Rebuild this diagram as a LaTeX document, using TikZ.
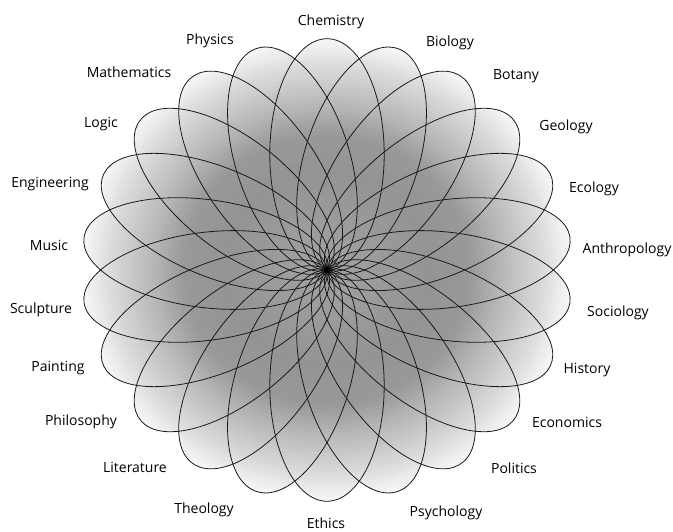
\documentclass[tikz,border=0pt]{standalone}
\usepackage{fontspec}
\setmainfont{Open Sans}
\usepackage{tikz}
\usepackage{xcolor}
\definecolor{petalline}{HTML}{1A1A1A}
\tikzset{
  petal/.style={
    draw=petalline,
    line width=0.8pt
  },
  subject/.style={
    anchor=base,
    inner sep=0pt,
    font=\fontsize{14}{16}\selectfont
  }
}

\begin{document}
\begin{tikzpicture}[x=1pt,y=1pt]
\useasboundingbox (0,0) rectangle (673,531);
\coordinate (ctr) at (327,261);
\begin{scope}[shift={(ctr)}, xscale=1.04, yscale=0.98]
  \begin{scope}
    \clip \foreach \k in {0,...,21}{
      ({90+\k*360/22}:118) ellipse [x radius=118, y radius=55, rotate={90+\k*360/22}]
    };
    \foreach \r in {250,246,...,2}{
      \pgfmathsetmacro\g{\r<100 ? 36+\r*0.06 : (\r<140 ? 42-(\r-100)*0.05 : (\r<165 ? 40-(\r-140)*0.4 : (\r<205 ? 30-(\r-165)*0.35 : max(1,16-(\r-205)*0.4))))}
      \fill[black!\g] (0,0) circle (\r);
    }
  \end{scope}
  \foreach \k in {0,...,21}
    \draw[petal] ({90+\k*360/22}:118) ellipse [x radius=118, y radius=55, rotate={90+\k*360/22}];
\end{scope}
\fill (ctr) circle (3.5);
\node[subject] (chem) at (331,505) {Chemistry};
\node[subject] (bio) at (450,484) {Biology};
\node[subject] (bot) at (516,451) {Botany};
\node[subject] (geo) at (566,400) {Geology};
\node[subject] (eco) at (594,338) {Ecology};
\node[subject] (anth) at (627,277) {Anthropology};
\node[subject] (soc) at (618,214) {Sociology};
\node[subject] (hist) at (587,157) {History};
\node[subject] (econ) at (567,103) {Economics};
\node[subject] (pol) at (514,57) {Politics};
\node[subject] (psy) at (446,15) {Psychology};
\node[subject] (eth) at (326,2) {Ethics};
\node[subject] (theo) at (204,17) {Theology};
\node[subject] (lit) at (135,59) {Literature};
\node[subject] (phil) at (81,106) {Philosophy};
\node[subject] (paint) at (58,159) {Painting};
\node[subject] (sculp) at (41,217) {Sculpture};
\node[subject] (mus) at (49,280) {Music};
\node[subject] (eng) at (50,343) {Engineering};
\node[subject] (logic) at (101,403) {Logic};
\node[subject] (math) at (129,453) {Mathematics};
\node[subject] (phys) at (210,486) {Physics};
\end{tikzpicture}
\end{document}
